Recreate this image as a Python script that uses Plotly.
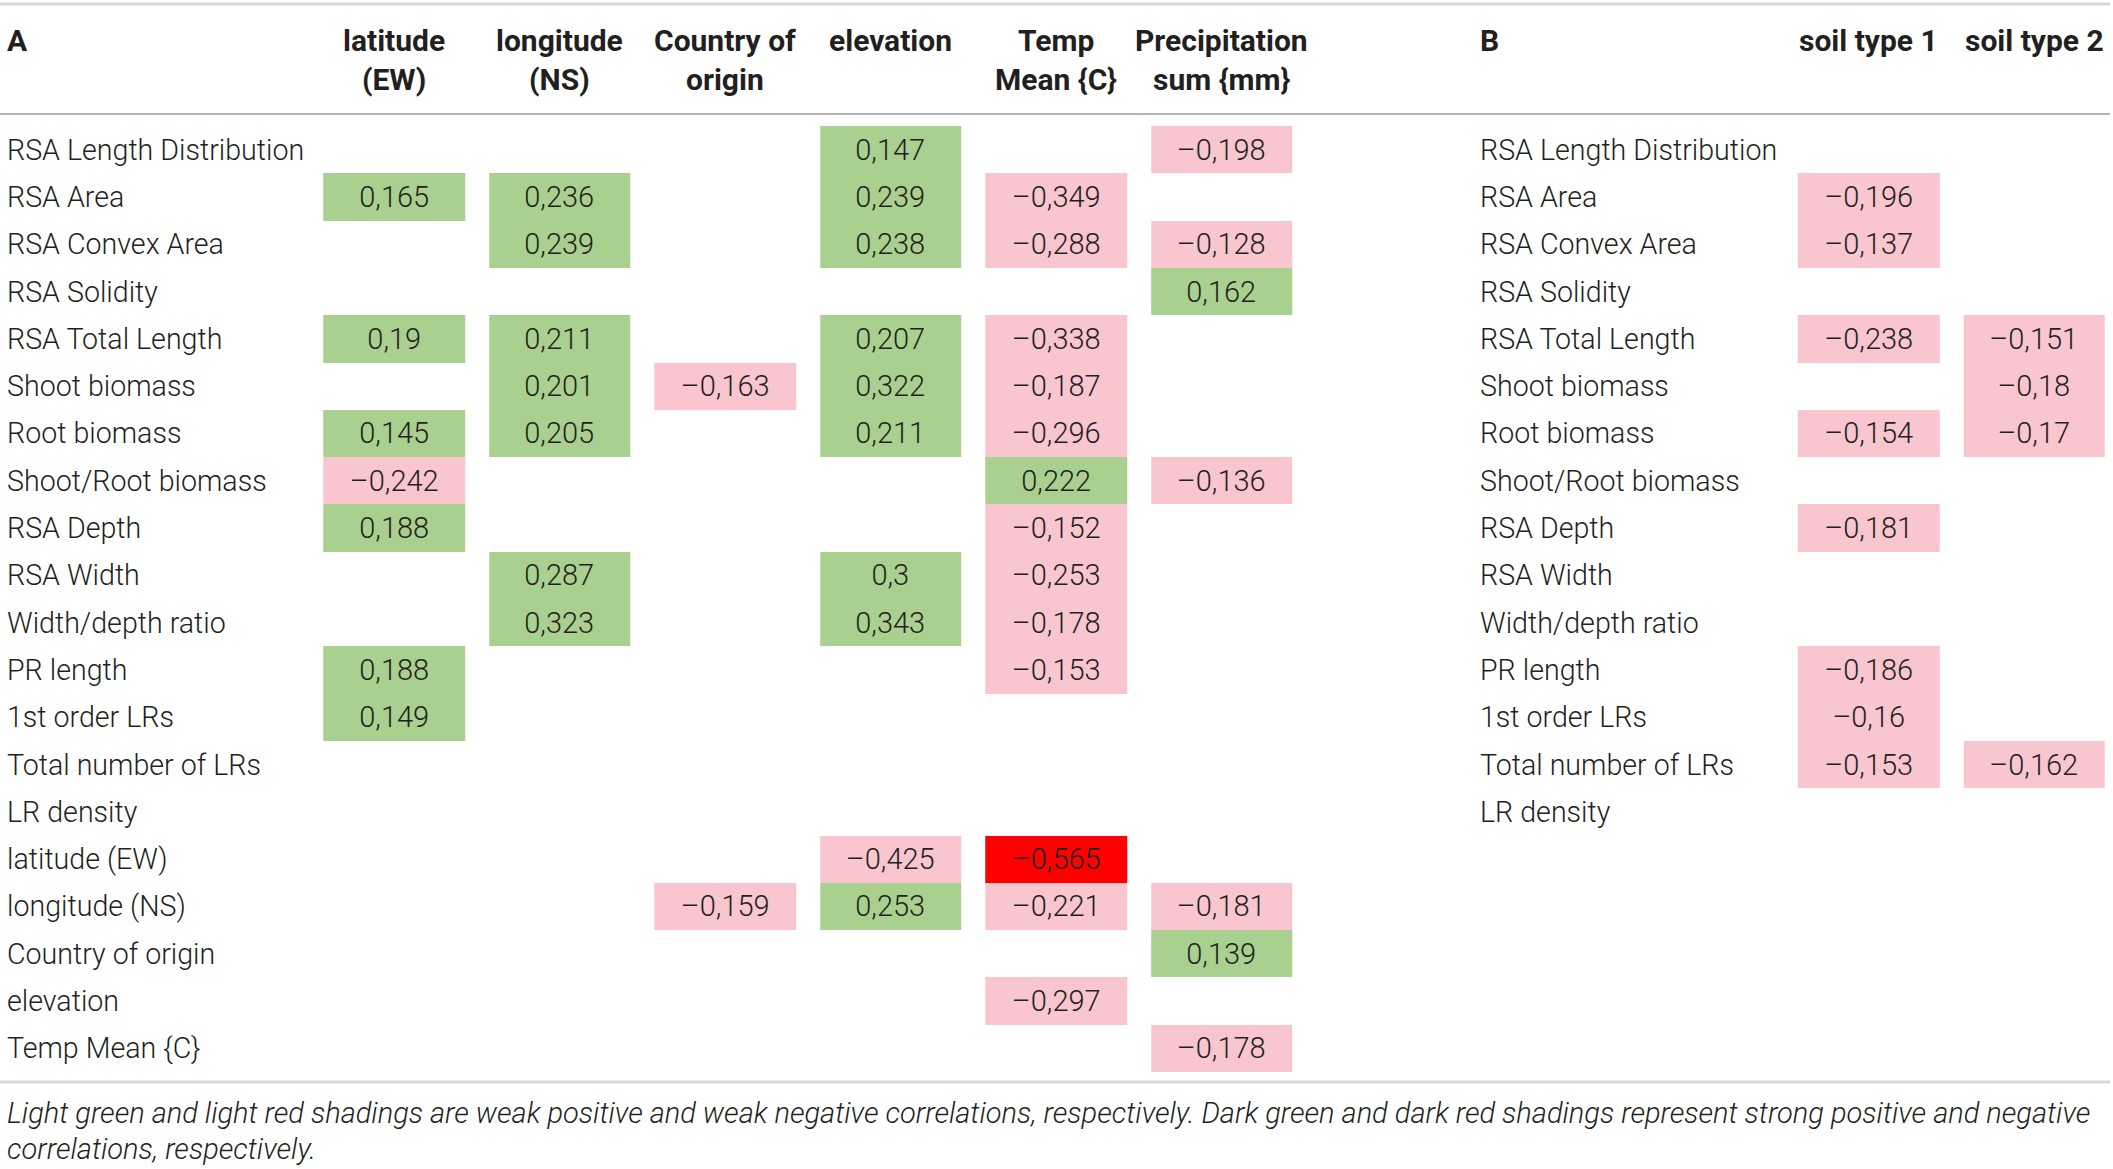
import plotly.graph_objects as go

rows_a = ['RSA Length Distribution', 'RSA Area', 'RSA Convex Area', 'RSA Solidity',
          'RSA Total Length', 'Shoot biomass', 'Root biomass', 'Shoot/Root biomass',
          'RSA Depth', 'RSA Width', 'Width/depth ratio', 'PR length', '1st order LRs',
          'Total number of LRs', 'LR density', 'latitude (EW)', 'longitude (NS)',
          'Country of origin', 'elevation', 'Temp Mean {C}']
rows_b = rows_a[:15]

cols_a = ['latitude<br>(EW)', 'longitude<br>(NS)', 'Country of<br>origin', 'elevation',
          'Temp<br>Mean {C}', 'Precipitation<br>sum {mm}']
cols_b = ['soil type 1', 'soil type 2']

# correlations, None = not significant
latitude = [None, 0.165, None, None, 0.19, None, 0.145, -0.242, 0.188, None,
            None, 0.188, 0.149, None, None, None, None, None, None, None]
longitude = [None, 0.236, 0.239, None, 0.211, 0.201, 0.205, None, None, 0.287,
             0.323, None, None, None, None, None, None, None, None, None]
country = [None, None, None, None, None, -0.163, None, None, None, None,
           None, None, None, None, None, None, -0.159, None, None, None]
elevation = [0.147, 0.239, 0.238, None, 0.207, 0.322, 0.211, None, None, 0.3,
             0.343, None, None, None, None, -0.425, 0.253, None, None, None]
temp_mean = [None, -0.349, -0.288, None, -0.338, -0.187, -0.296, 0.222, -0.152, -0.253,
             -0.178, -0.153, None, None, None, -0.565, -0.221, None, -0.297, None]
precip_sum = [-0.198, None, -0.128, 0.162, None, None, None, -0.136, None, None,
              None, None, None, None, None, None, -0.181, 0.139, None, -0.178]
soil1 = [None, -0.196, -0.137, None, -0.238, None, -0.154, None, -0.181, None,
         None, -0.186, -0.16, -0.153, None]
soil2 = [None, None, None, None, -0.151, -0.18, -0.17, None, None, None,
         None, None, None, -0.162, None]

caption = ['Light green and light red shadings are weak positive and weak negative correlations, '
           'respectively. Dark green and dark red shadings represent strong positive and negative',
           'correlations, respectively.']

W, H = 2113, 1169
GREEN = '#a9d08e'
PINK = '#f9c6cf'
RED = '#ff0000'
DKGREEN = '#3a8a2a'
TXT = '#231f20'
BODY = 'Roboto'

# stepped scale: strong neg | weak neg | weak pos | strong pos
cscale = [[0, RED], [0.25, RED], [0.25, PINK], [0.5, PINK],
          [0.5, GREEN], [0.75, GREEN], [0.75, DKGREEN], [1, DKGREEN]]


def fmt(v):
    if v is None:
        return ''
    return str(v).replace('-', '\u2013').replace('.', ',')


def grid(cols):
    z = [list(r) for r in zip(*cols)]
    t = [[fmt(v) for v in r] for r in z]
    return z, t


z_a, t_a = grid([latitude, longitude, country, elevation, temp_mean, precip_sum])
z_b, t_b = grid([soil1, soil2])

cell_font = dict(size=29, color=TXT, family=BODY, weight=300)
fig = go.Figure()
fig.add_trace(go.Heatmap(z=z_a, text=t_a, texttemplate='%{text}', xgap=24, ygap=0,
                         colorscale=cscale, zmin=-1, zmax=1, showscale=False,
                         hoverinfo='skip', xaxis='x', yaxis='y', textfont=cell_font))
fig.add_trace(go.Heatmap(z=z_b, text=t_b, texttemplate='%{text}', xgap=24, ygap=0,
                         colorscale=cscale, zmin=-1, zmax=1, showscale=False,
                         hoverinfo='skip', xaxis='x2', yaxis='y', textfont=cell_font))

pitch = 165.5
row_h = 47.3
row0 = 149.6
a_left = 394 - pitch / 2
b_left = 1868.5 - pitch / 2
top = row0 - row_h / 2
bot = row0 + 19 * row_h + row_h / 2

hide = dict(visible=False, showgrid=False, zeroline=False, fixedrange=True)
fig.update_layout(
    width=W, height=H, margin=dict(l=0, r=0, t=0, b=0),
    paper_bgcolor='white', plot_bgcolor='rgba(0,0,0,0)',
    xaxis=dict(domain=[a_left / W, (a_left + 6 * pitch) / W], range=[-0.5, 5.5], **hide),
    xaxis2=dict(domain=[b_left / W, 1], range=[-0.5, -0.5 + (W - b_left) / pitch],
                anchor='y', **hide),
    yaxis=dict(domain=[(H - bot) / H, (H - top) / H], range=[19.5, -0.5], **hide),
    showlegend=False,
)


def py(px):
    return 1 - px / H


row_font = dict(size=28.6, color=TXT, family=BODY, weight=300)
ann = []
for i, r in enumerate(rows_a):
    ann.append(dict(x=5 / W, xref='paper', xanchor='left', y=i, yref='y', yanchor='middle',
                    text=r, showarrow=False, font=row_font))
for i, r in enumerate(rows_b):
    ann.append(dict(x=1478 / W, xref='paper', xanchor='left', y=i, yref='y', yanchor='middle',
                    text=r, showarrow=False, font=row_font))

hfont = dict(size=30, color=TXT, family=BODY, weight=700)
for axis, cols in (('x', cols_a), ('x2', cols_b)):
    for j, c in enumerate(cols):
        for k, line in enumerate(c.split('<br>')):
            ann.append(dict(x=j, xref=axis, y=py(40 + 39 * k), yref='paper', text=line,
                            showarrow=False, xanchor='center', yanchor='middle', font=hfont))
for lbl, xp in (('A', 5), ('B', 1478)):
    ann.append(dict(x=xp / W, xref='paper', xanchor='left', y=py(40), yref='paper',
                    yanchor='middle', text=lbl, showarrow=False, font=hfont))

for k, line in enumerate(caption):
    ann.append(dict(x=5 / W, xref='paper', xanchor='left', y=py(1113 + 36 * k), yref='paper',
                    yanchor='middle', text=line, showarrow=False,
                    font=dict(size=29, color=TXT, family=BODY, style='italic', weight=300)))
fig.update_layout(annotations=ann)

# rules
for y, c, w in ((4, '#d7d7d7', 3), (114, '#b3b3b3', 2), (1082, '#d7d7d7', 3)):
    fig.add_shape(type='line', xref='paper', yref='paper', x0=0, x1=2110 / W,
                  y0=py(y), y1=py(y), line=dict(color=c, width=w))

fig.write_html('out.html', config={'displayModeBar': False},
               post_script="document.body.style.margin='0';")
